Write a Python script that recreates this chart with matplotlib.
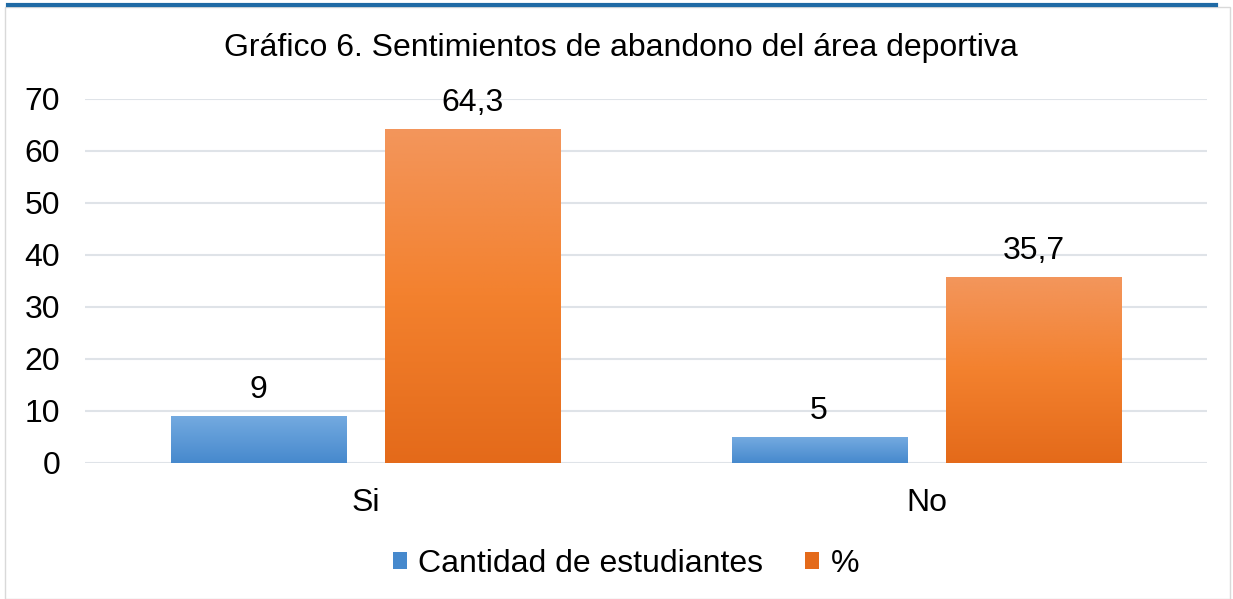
"""Gráfico 6: sentimientos de abandono del área deportiva."""

import matplotlib

matplotlib.use("Agg")
import matplotlib.pyplot as plt  # noqa: E402
import numpy as np  # noqa: E402
from matplotlib.colors import LinearSegmentedColormap  # noqa: E402
from matplotlib.patches import Patch, Rectangle  # noqa: E402
from matplotlib.lines import Line2D  # noqa: E402

categories = ["Si", "No"]
cantidad = [9, 5]
porcentaje = [64.3, 35.7]
labels_cantidad = ["9", "5"]
labels_porcentaje = ["64,3", "35,7"]
series_names = ["Cantidad de estudiantes", "%"]

BLUE_TOP, BLUE_BOTTOM = "#74aae0", "#4689cd"
ORANGE_TOP, ORANGE_MID, ORANGE_BOTTOM = "#f3965c", "#f3812e", "#e46a1a"
FS = 23

plt.rcParams["font.family"] = ["Liberation Sans", "DejaVu Sans"]

W, H = 1233, 599
fig = plt.figure(figsize=(W / 100, H / 100), dpi=100)

# frame and top accent line
fig.patches.append(Rectangle((5 / W, 0), 1225 / W, 1 - 7 / H, transform=fig.transFigure,
                             fill=False, edgecolor="#d9d9d9", linewidth=1.0))
fig.lines.append(Line2D([8 / W, 1216 / W], [1 - 4.5 / H, 1 - 4.5 / H], transform=fig.transFigure,
                        color="#1f6aa5", linewidth=3))

ax = fig.add_axes([85 / W, 1 - 463 / H, (1207 - 85) / W, (463 - 99) / H])

x = np.arange(len(categories))
width = 0.312
offset = 0.1915


def gradient_bars(bars, colors):
    cmap = LinearSegmentedColormap.from_list("g", colors)
    grad = np.linspace(0, 1, 256).reshape(-1, 1)
    for bar in bars:
        x0, y0 = bar.get_x(), bar.get_y()
        w, h = bar.get_width(), bar.get_height()
        im = ax.imshow(grad, cmap=cmap, origin="lower", aspect="auto",
                       extent=[x0, x0 + w, y0, y0 + h], zorder=3)
        im.set_clip_path(bar)


bars_c = ax.bar(x - offset, cantidad, width, color=BLUE_BOTTOM, zorder=2)
bars_p = ax.bar(x + offset, porcentaje, width, color=ORANGE_BOTTOM, zorder=2)
gradient_bars(bars_c, [BLUE_BOTTOM, BLUE_TOP])
gradient_bars(bars_p, [ORANGE_BOTTOM, ORANGE_MID, ORANGE_TOP])

for bars, labels in ((bars_c, labels_cantidad), (bars_p, labels_porcentaje)):
    for bar, text in zip(bars, labels):
        ax.annotate(text, (bar.get_x() + bar.get_width() / 2, bar.get_height()),
                    xytext=(0, 8), textcoords="offset points", ha="center", va="bottom",
                    fontsize=FS, color="#000000")

ax.set_xlim(-0.5, 1.5)
ax.set_ylim(0, 70)
ax.set_yticks(range(0, 71, 10))
ax.set_xticks(x)
ax.set_xticklabels(categories)
ax.tick_params(axis="both", length=0, labelsize=FS, colors="#000000")
ax.tick_params(axis="x", pad=18)
ax.tick_params(axis="y", pad=18)
ax.grid(axis="y", color="#dfe3e8", linewidth=1.5, zorder=0)
ax.set_axisbelow(True)
for spine in ax.spines.values():
    spine.set_visible(False)

fig.text(621 / W, 1 - 48 / H, "Gráfico 6. Sentimientos de abandono del área deportiva",
         ha="center", va="center", fontsize=FS)

handles = [Patch(facecolor=BLUE_BOTTOM), Patch(facecolor=ORANGE_BOTTOM)]
fig.legend(handles, series_names, loc="center", bbox_to_anchor=(626 / W, 1 - 564 / H),
           ncol=2, frameon=False, fontsize=FS, handlelength=0.45, handleheight=0.45,
           handletextpad=0.35, columnspacing=1.3)

fig.savefig("out.png", dpi=100)
plt.close(fig)
